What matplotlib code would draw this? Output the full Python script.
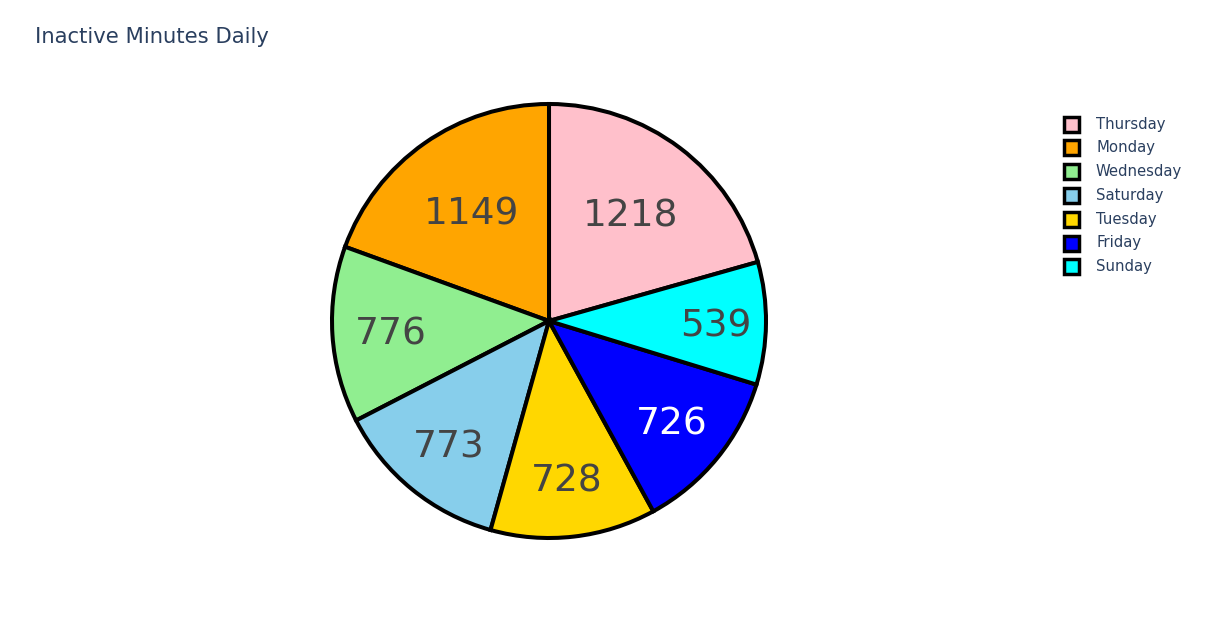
import matplotlib
matplotlib.use("Agg")
import matplotlib.pyplot as plt
from matplotlib.patches import Rectangle
from matplotlib.colors import to_rgb
import numpy as np

days = ["Thursday", "Monday", "Wednesday", "Saturday", "Tuesday", "Friday", "Sunday"]
minutes = [1218, 1149, 776, 773, 728, 726, 539]
colors = ["#FFC0CB", "#FFA500", "#90EE90", "#87CEEB", "#FFD700", "#0000FF", "#00FFFF"]

W, H = 1205, 620
fig = plt.figure(figsize=(W / 100, H / 100), dpi=100)
plt.rcParams['font.family'] = ['DejaVu Sans']

# pie axes: center (549,321) radius 217 px
cx, cy, r = 549, 321, 217
ax = fig.add_axes([(cx - r) / W, (H - cy - r) / H, 2 * r / W, 2 * r / H])

total = sum(minutes)
start = 90 - 360 * minutes[0] / total
wedges, _ = ax.pie(minutes, colors=colors, startangle=start, counterclock=True,
                   radius=1.0, center=(0, 0),
                   wedgeprops=dict(edgecolor='black', linewidth=2.9))
ax.set_xlim(-1, 1)
ax.set_ylim(-1, 1)
ax.set_aspect('equal')
ax.axis('off')

for w, v, c in zip(wedges, minutes, colors):
    mid = np.deg2rad((w.theta1 + w.theta2) / 2)
    frac = v / total
    d = 0.62 if frac > 0.15 else (0.73 if frac > 0.1 else 0.77)
    rr, gg, bb = to_rgb(c)
    lum = 0.299 * rr + 0.587 * gg + 0.114 * bb
    tc = '#444444' if lum > 0.4 else 'white'
    ax.text(d * np.cos(mid), d * np.sin(mid) - 0.015, str(v), ha='center', va='center',
            fontsize=27, color=tc)

fig.text(35 / W, 1 - 37 / H, "Inactive Minutes Daily", ha='left', va='center',
         fontsize=15.2, color='#2a3f5f')

# legend
y0, dy = 124, 23.8
for i, (d, c) in enumerate(zip(days, colors)):
    yc = y0 + i * dy
    sx, ss = 1064, 15
    fig.patches.append(Rectangle((sx / W, 1 - (yc + ss / 2) / H), ss / W, ss / H,
                                 transform=fig.transFigure, facecolor=c,
                                 edgecolor='black', linewidth=2.5))
    fig.text(1096 / W, 1 - yc / H, d, ha='left', va='center', fontsize=10.7,
             color='#2a3f5f')

fig.savefig("out.png", dpi=100, facecolor='white')
